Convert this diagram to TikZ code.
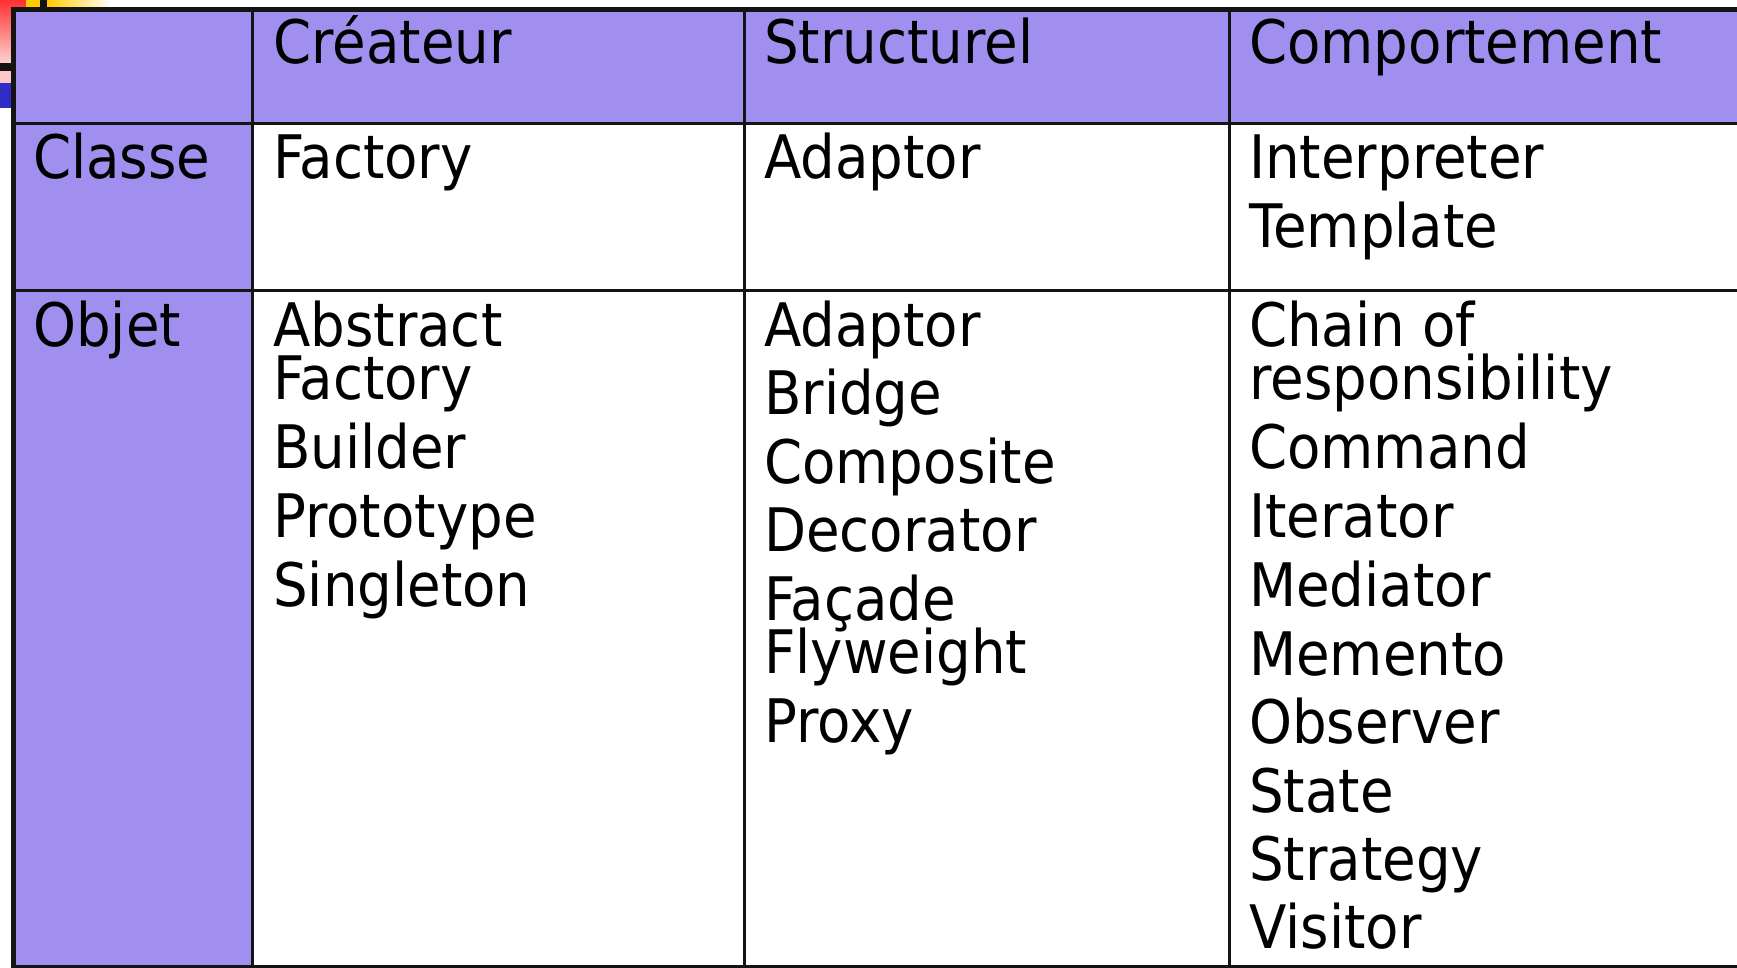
\documentclass[tikz,border=0pt]{standalone}
\usepackage{fontspec}
\setmainfont{DejaVu Sans}[FakeStretch=0.91]
\definecolor{hdr}{RGB}{160,143,238}
\definecolor{redc}{RGB}{255,48,48}
\definecolor{pinkt}{RGB}{255,210,210}
\definecolor{yel}{RGB}{255,204,0}
\definecolor{pinkc}{RGB}{255,200,200}
\definecolor{bluec}{RGB}{48,44,200}
\definecolor{ink}{RGB}{20,20,20}
\tikzset{
  celltext/.style={anchor=base west, inner sep=0pt, font=\fontsize{60}{72}\selectfont},
  thinrule/.style={draw=ink, line width=3pt},
  thickrule/.style={draw=ink, line width=5.5pt}
}
\begin{document}
\begin{tikzpicture}[x=1pt,y=-1pt]
\useasboundingbox (0,0) rectangle (1737,968);
\clip (0,0) rectangle (1737,968);
% corner decoration
\shade[top color=redc, bottom color=pinkt] (0,0) rectangle (26,63);
\fill[yel] (26,0) rectangle (40,7);
\fill[ink] (40,0) rectangle (47,7);
\shade[left color=yel, right color=white] (47,0) rectangle (112,7);
\fill[ink] (0,63) rectangle (11,71);
\fill[pinkc] (0,71) rectangle (11,83);
\fill[bluec] (0,83) rectangle (11,108);
% table fills
\fill[hdr] (13.5,9.5) rectangle (1750,124);
\fill[hdr] (13.5,124) rectangle (252,966);
\fill[white] (252,124) rectangle (1750,966);
% rules
\draw[thinrule] (13.5,124) -- (1750,124);
\draw[thinrule] (13.5,291) -- (1750,291);
\draw[thinrule] (252,9.5) -- (252,966);
\draw[thinrule] (744,9.5) -- (744,966);
\draw[thinrule] (1229,9.5) -- (1229,966);
\draw[thinrule] (13.5,966) -- (1750,966);
\draw[thickrule] (13.5,968) -- (13.5,9.5) -- (1750,9.5);
% header
\node[celltext] (hcre) at (273,63.5) {Créateur};
\node[celltext] (hstr) at (764,63.5) {Structurel};
\node[celltext] (hcom) at (1249,63.5) {Comportement};
% row labels
\node[celltext] (rcla) at (33,179) {Classe};
\node[celltext] (robj) at (33,346) {Objet};
% classe row
\node[celltext] (cfac) at (273,179) {Factory};
\node[celltext] (cada) at (764,179) {Adaptor};
\node[celltext] (cint) at (1249,179) {Interpreter};
\node[celltext] (ctem) at (1249,248) {Template};
% objet row, createur
\node[celltext] (oabs) at (273,346) {Abstract};
\node[celltext] (ofac) at (273,399) {Factory};
\node[celltext] (obui) at (273,468) {Builder};
\node[celltext] (opro) at (273,537) {Prototype};
\node[celltext] (osin) at (273,606) {Singleton};
% objet row, structurel
\node[celltext] (sada) at (764,346) {Adaptor};
\node[celltext] (sbri) at (764,414.5) {Bridge};
\node[celltext] (scom) at (764,483) {Composite};
\node[celltext] (sdec) at (764,551.5) {Decorator};
\node[celltext] (sfac) at (764,620) {Façade};
\node[celltext] (sfly) at (764,673) {Flyweight};
\node[celltext] (spro) at (764,742) {Proxy};
% objet row, comportement
\node[celltext] (bcha) at (1249,346) {Chain of};
\node[celltext] (bres) at (1249,399) {responsibility};
\node[celltext] (bcom) at (1249,468) {Command};
\node[celltext] (bite) at (1249,537) {Iterator};
\node[celltext] (bmed) at (1249,606.5) {Mediator};
\node[celltext] (bmem) at (1249,675) {Memento};
\node[celltext] (bobs) at (1249,743.5) {Observer};
\node[celltext] (bsta) at (1249,812) {State};
\node[celltext] (bstr) at (1249,880) {Strategy};
\node[celltext] (bvis) at (1249,948) {Visitor};
\end{tikzpicture}
\end{document}
